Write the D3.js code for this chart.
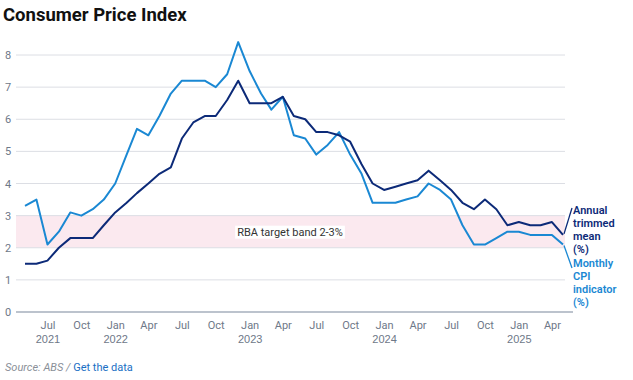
<!DOCTYPE html>
<html>
<head>
<meta charset="utf-8">
<script src="https://cdn.jsdelivr.net/npm/d3@7/dist/d3.min.js"></script>
<style>
  html, body { margin: 0; padding: 0; background: #fff; }
  svg { display: block; font-family: Roboto, "Noto Sans", sans-serif; }
</style>
</head>
<body>
<svg id="chart" width="633" height="380"></svg>
<script>
const months = [
  "2021-05","2021-06","2021-07","2021-08","2021-09","2021-10","2021-11","2021-12",
  "2022-01","2022-02","2022-03","2022-04","2022-05","2022-06","2022-07","2022-08","2022-09","2022-10","2022-11","2022-12",
  "2023-01","2023-02","2023-03","2023-04","2023-05","2023-06","2023-07","2023-08","2023-09","2023-10","2023-11","2023-12",
  "2024-01","2024-02","2024-03","2024-04","2024-05","2024-06","2024-07","2024-08","2024-09","2024-10","2024-11","2024-12",
  "2025-01","2025-02","2025-03","2025-04","2025-05"
];
const trimmedMean = [
  1.5,1.5,1.6,2.0,2.3,2.3,2.3,2.7,
  3.1,3.4,3.7,4.0,4.3,4.5,5.4,5.9,6.1,6.1,6.6,7.2,
  6.5,6.5,6.5,6.7,6.1,6.0,5.6,5.6,5.5,5.3,4.6,4.0,
  3.8,3.9,4.0,4.1,4.4,4.1,3.8,3.4,3.2,3.5,3.2,2.7,
  2.8,2.7,2.7,2.8,2.4
];
const monthlyCPI = [
  3.3,3.5,2.1,2.5,3.1,3.0,3.2,3.5,
  4.0,4.9,5.7,5.5,6.1,6.8,7.2,7.2,7.2,7.0,7.4,8.4,
  7.5,6.8,6.3,6.7,5.5,5.4,4.9,5.2,5.6,4.9,4.3,3.4,
  3.4,3.4,3.5,3.6,4.0,3.8,3.5,2.7,2.1,2.1,2.3,2.5,
  2.5,2.4,2.4,2.4,2.1
];
const yTicks = [0,1,2,3,4,5,6,7,8];
const xTickMonths = ["2021-07","2021-10","2022-01","2022-04","2022-07","2022-10","2023-01","2023-04",
  "2023-07","2023-10","2024-01","2024-04","2024-07","2024-10","2025-01","2025-04"];
const monthNames = ["Jan","Feb","Mar","Apr","May","Jun","Jul","Aug","Sep","Oct","Nov","Dec"];
const band = [2, 3];
const bandLabel = "RBA target band 2-3%";
const seriesLabels = [["Annual","trimmed","mean","(%)"],["Monthly","CPI","indicator","(%)"]];
const title = "Consumer Price Index";

const parse = d3.timeParse("%Y-%m");
const dates = months.map(parse);

const colDark = "#0c2a78";
const colBlue = "#1a88d3";
const colText = "#6e7888";

const svg = d3.select("#chart");
const x = d3.scaleTime().domain([dates[0], dates[dates.length-1]]).range([25, 563]);
const y = d3.scaleLinear().domain([0, 8]).range([312, 55]);

// title
svg.append("text").attr("x", 3).attr("y", 21)
  .attr("font-size", 18.5).attr("font-weight", 700).attr("fill", "#111")
  .text(title);

// band
svg.append("rect").attr("x", 16).attr("width", 565 - 16)
  .attr("y", y(band[1])).attr("height", y(band[0]) - y(band[1]))
  .attr("fill", "#fbe9ef");

// gridlines
svg.append("g").selectAll("line").data(yTicks.filter(d => d > 0)).join("line")
  .attr("x1", 16).attr("x2", 565)
  .attr("y1", d => y(d)).attr("y2", d => y(d))
  .attr("stroke", "#dcdee4").attr("stroke-width", 1);

// y labels
svg.append("g").selectAll("text").data(yTicks).join("text")
  .attr("x", 5).attr("y", d => y(d) + 4)
  .attr("font-size", 11).attr("fill", colText).text(d => d);

// baseline axis
svg.append("line").attr("x1", 16).attr("x2", 573).attr("y1", y(0)).attr("y2", y(0))
  .attr("stroke", "#7b889b").attr("stroke-width", 1.2);

// x axis labels via d3 axis
const xTickDates = xTickMonths.map(parse);
const xAxis = d3.axisBottom(x).tickValues(xTickDates).tickSize(0).tickPadding(0)
  .tickFormat(d => monthNames[d.getMonth()]);
const gx = svg.append("g").attr("transform", `translate(0,${y(0)})`).call(xAxis);
gx.select(".domain").remove();
gx.selectAll(".tick text").attr("dy", null).attr("y", 17)
  .attr("font-size", 11).attr("fill", colText).attr("font-family", "Roboto, sans-serif");
gx.selectAll(".tick").filter(d => d.getMonth() === 0 || +d === +xTickDates[0])
  .append("text").attr("y", 31).attr("text-anchor", "middle")
  .attr("font-size", 11).attr("fill", colText).text(d => d.getFullYear());

// band label
const bl = svg.append("g");
const blText = bl.append("text").attr("x", 290).attr("y", y(2.5) + 4)
  .attr("text-anchor", "middle").attr("font-size", 11).attr("fill", "#333").text(bandLabel);
const bb = blText.node().getBBox();
bl.insert("rect", "text").attr("x", bb.x - 2).attr("y", bb.y).attr("width", bb.width + 4)
  .attr("height", bb.height).attr("fill", "#fff");

// lines
const line = d3.line().x((d, i) => x(dates[i])).y(d => y(d));
svg.append("path").datum(monthlyCPI).attr("d", line).attr("fill", "none")
  .attr("stroke", colBlue).attr("stroke-width", 2).attr("stroke-linejoin", "round");
svg.append("path").datum(trimmedMean).attr("d", line).attr("fill", "none")
  .attr("stroke", colDark).attr("stroke-width", 2).attr("stroke-linejoin", "round");

// leaders + labels
const lastX = x(dates[dates.length-1]);
const lastT = trimmedMean[trimmedMean.length-1];
const lastC = monthlyCPI[monthlyCPI.length-1];
svg.append("line").attr("x1", lastX + 1).attr("y1", y(lastT) - 1).attr("x2", 572).attr("y2", 208)
  .attr("stroke", colDark).attr("stroke-width", 1.3);
svg.append("line").attr("x1", lastX + 1).attr("y1", y(lastC) + 1).attr("x2", 572).attr("y2", 268)
  .attr("stroke", colBlue).attr("stroke-width", 1.3);

const labelTop = [214, 267];
const labelColors = [colDark, colBlue];
seriesLabels.forEach((lines, k) => {
  const g = svg.append("g").attr("font-size", 11).attr("font-weight", 600).attr("fill", labelColors[k]);
  lines.forEach((s, j) => g.append("text").attr("x", 573).attr("y", labelTop[k] + j * 12.9).text(s));
});

// source
const src = svg.append("text").attr("x", 5).attr("y", 371).attr("font-size", 11);
src.append("tspan").attr("font-style", "italic").attr("fill", "#8a8f98").text("Source: ABS / ");
src.append("tspan").attr("fill", "#1a6fc4").text("Get the data");
</script>
</body>
</html>
